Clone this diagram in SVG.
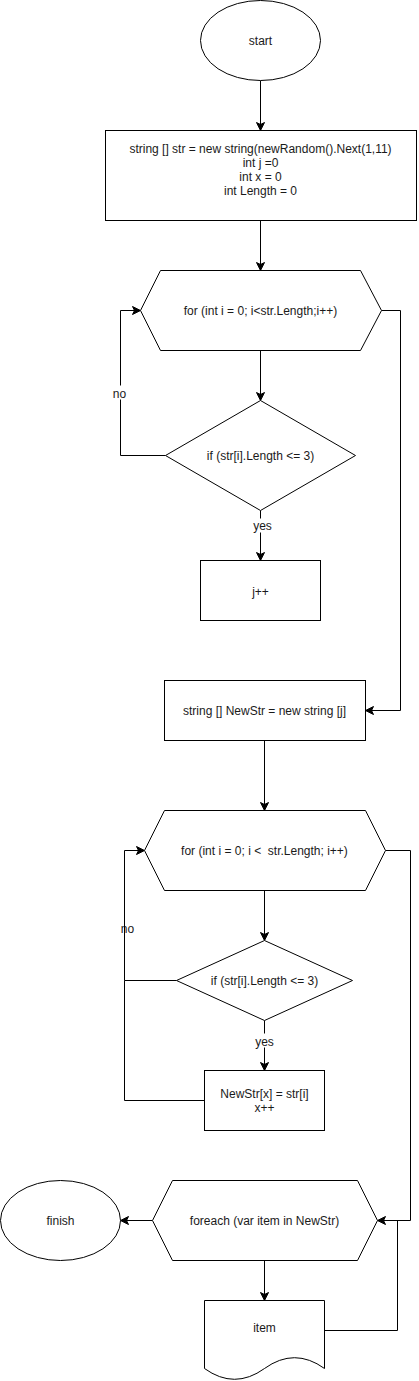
<svg xmlns="http://www.w3.org/2000/svg" width="419" height="1381" viewBox="0 0 419 1381">
<defs>
<style>
.s{fill:#fff;stroke:#000;stroke-width:1}
.c{fill:none;stroke:#000;stroke-width:1}
.t{font-family:"Liberation Sans",Arial,sans-serif;font-size:12px;fill:#1a1a1a;text-anchor:middle}
.lb{fill:#fff;stroke:none}
</style>
<marker id="arr" viewBox="-9 -5 10 10" refX="0" refY="0" markerWidth="10" markerHeight="10" markerUnits="userSpaceOnUse" orient="auto">
<path d="M0,0 L-8,-4 L-6,0 L-8,4 Z" fill="#000" stroke="#000" stroke-width="1"/>
</marker>
</defs>
<rect width="419" height="1381" fill="#fff"/>
<g transform="translate(0.5,0.5)">
<g id="connectors">
<text class="t" x="127" y="932">no</text>
<path class="c" d="M260,80 L260,130" marker-end="url(#arr)"/>
<path class="c" d="M260,220 L260,270" marker-end="url(#arr)"/>
<path class="c" d="M260,350 L260,400" marker-end="url(#arr)"/>
<path class="c" d="M165,455 L120,455 L120,310 L140,310" marker-end="url(#arr)"/>
<path class="c" d="M381,310 L400,310 L400,710 L365,710" marker-end="url(#arr)"/>
<path class="c" d="M260,510 L260,560" marker-end="url(#arr)"/>
<path class="c" d="M264,740 L264,810" marker-end="url(#arr)"/>
<path class="c" d="M264,890 L264,940" marker-end="url(#arr)"/>
<path class="c" d="M176,980 L124,980 L124,850 L144,850" marker-end="url(#arr)"/>
<path class="c" d="M204,1100 L124,1100 L124,980"/>
<path class="c" d="M264,1020 L264,1070" marker-end="url(#arr)"/>
<path class="c" d="M385,850 L410,850 L410,1220 L377,1220" marker-end="url(#arr)"/>
<path class="c" d="M152,1220 L120,1220" marker-end="url(#arr)"/>
<path class="c" d="M264,1260 L264,1300" marker-end="url(#arr)"/>
<path class="c" d="M324,1330 L397,1330 L397,1220"/>
<rect class="lb" x="111" y="385" width="17" height="14"/>
<text class="t" x="119" y="397">no</text>
<rect class="lb" x="251" y="518" width="22" height="14"/>
<text class="t" x="262" y="529">yes</text>
<rect class="lb" x="253" y="1033" width="22" height="14"/>
<text class="t" x="264" y="1045">yes</text>
</g>
<g id="start">
<ellipse class="s" cx="260" cy="40" rx="60" ry="40"/>
<text class="t" x="260" y="44">start</text>
</g>
<g id="init">
<rect class="s" x="105" y="130" width="311" height="90"/>
<text class="t" x="260" y="152">string [] str = new string(newRandom().Next(1,11)</text>
<text class="t" x="260" y="166">int j =0</text>
<text class="t" x="260" y="180">int x = 0</text>
<text class="t" x="260" y="194">int Length = 0</text>
</g>
<g id="for1">
<path class="s" d="M140,310 L160,270 L360,270 L381,310 L360,350 L160,350 Z"/>
<text class="t" x="260" y="314">for (int i = 0; i&lt;str.Length;i++)</text>
</g>
<g id="if1">
<path class="s" d="M260,400 L355,455 L260,510 L165,455 Z"/>
<text class="t" x="260" y="459">if (str[i].Length &lt;= 3)</text>
</g>
<g id="jinc">
<rect class="s" x="200" y="560" width="120" height="60"/>
<text class="t" x="260" y="595">j++</text>
</g>
<g id="newstr">
<rect class="s" x="164" y="680" width="201" height="60"/>
<text class="t" x="264" y="714">string [] NewStr = new string [j]</text>
</g>
<g id="for2">
<path class="s" d="M144,850 L164,810 L365,810 L385,850 L365,890 L164,890 Z"/>
<text class="t" x="264" y="854" xml:space="preserve">for (int i = 0; i &lt;  str.Length; i++)</text>
</g>
<g id="if2">
<path class="s" d="M264,940 L352,980 L264,1020 L176,980 Z"/>
<text class="t" x="264" y="984">if (str[i].Length &lt;= 3)</text>
</g>
<g id="assign">
<rect class="s" x="204" y="1070" width="120" height="60"/>
<text class="t" x="264" y="1097">NewStr[x] = str[i]</text>
<text class="t" x="264" y="1111">x++</text>
</g>
<g id="foreach">
<path class="s" d="M152,1220 L172,1180 L357,1180 L377,1220 L357,1260 L172,1260 Z"/>
<text class="t" x="264" y="1224">foreach (var item in NewStr)</text>
</g>
<g id="finish">
<ellipse class="s" cx="60" cy="1220" rx="60" ry="40"/>
<text class="t" x="60" y="1224">finish</text>
</g>
<g id="item">
<path class="s" d="M204,1300 L324,1300 L324,1368 Q294,1346.4 264,1368 Q234,1389.6 204,1368 Z"/>
<text class="t" x="264" y="1331">item</text>
</g>
</g>
</svg>
